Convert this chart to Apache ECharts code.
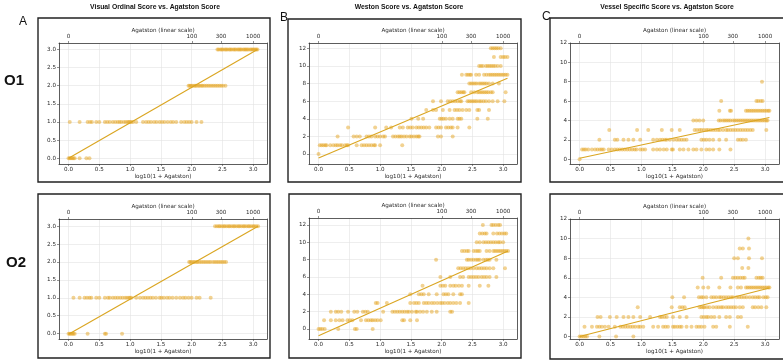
<!DOCTYPE html>
<html>
<head>
<meta charset="utf-8">
<script src="https://cdn.jsdelivr.net/npm/echarts@6/dist/echarts.min.js"></script>
<style>
  html, body { margin: 0; padding: 0; background: #fff; }
  #chart { width: 783px; height: 360px; }
</style>
</head>
<body>
<div id="chart"></div>
<script>
// rows of [score, [log10(1 + Agatston) values]]
var visualO1 = [
  [3, [2.42, 2.44, 2.47, 2.49, 2.51, 2.54, 2.56, 2.58, 2.61, 2.63, 2.65, 2.68, 2.7, 2.72, 2.75, 2.77, 2.79, 2.81, 2.84, 2.86, 2.88, 2.9, 2.92, 2.95, 2.97, 2.99, 3.01, 3.03, 3.05, 3.07]],
  [2, [1.95, 1.97, 1.99, 2.01, 2.04, 2.06, 2.08, 2.11, 2.13, 2.16, 2.18, 2.21, 2.24, 2.27, 2.3, 2.33, 2.36, 2.39, 2.42, 2.45, 2.48, 2.51, 2.55]],
  [1, [0.02, 0.18, 0.31, 0.35, 0.38, 0.45, 0.5, 0.59, 0.63, 0.67, 0.72, 0.76, 0.8, 0.83, 0.86, 0.9, 0.93, 0.96, 0.98, 1.0, 1.02, 1.05, 1.1, 1.21, 1.26, 1.3, 1.34, 1.39, 1.43, 1.48, 1.52, 1.56, 1.61, 1.66, 1.7, 1.75, 1.83, 1.88, 1.92, 1.96, 2.0, 2.08, 2.16]],
  [0, [0.0, 0.02, 0.04, 0.06, 0.08, 0.1, 0.18, 0.29, 0.34]]
];
var westonO1 = [
  [12, [2.8, 2.83, 2.86, 2.89, 2.92, 2.96]],
  [11, [2.85, 2.96, 3.0, 3.03, 3.07]],
  [10, [2.61, 2.64, 2.67, 2.72, 2.75, 2.78, 2.81, 2.84, 2.87, 2.91, 2.96]],
  [9, [2.33, 2.4, 2.43, 2.46, 2.48, 2.56, 2.61, 2.69, 2.73, 2.77, 2.8, 2.83, 2.86, 2.89, 2.92, 2.95, 2.98, 3.01, 3.04, 3.07]],
  [8, [2.45, 2.48, 2.51, 2.54, 2.57, 2.61, 2.64, 2.67, 2.7, 2.73, 2.77, 2.83, 2.93]],
  [7, [2.26, 2.29, 2.32, 2.35, 2.37, 2.48, 2.53, 2.58, 2.61, 2.64, 2.67, 2.7, 2.73, 2.76, 2.8, 2.83, 3.04]],
  [6, [1.86, 1.99, 2.1, 2.14, 2.18, 2.22, 2.26, 2.3, 2.32, 2.42, 2.45, 2.48, 2.51, 2.54, 2.57, 2.61, 2.64, 2.68, 2.72, 2.77, 2.83, 2.91, 3.02]],
  [5, [1.75, 1.86, 1.91, 2.02, 2.13, 2.21, 2.25, 2.29, 2.34, 2.4, 2.45, 2.58, 2.61, 2.77]],
  [4, [1.51, 1.62, 1.7, 1.97, 2.0, 2.03, 2.07, 2.13, 2.18, 2.26, 2.29, 2.32, 2.58, 2.75]],
  [3, [0.48, 0.92, 1.1, 1.18, 1.32, 1.37, 1.45, 1.49, 1.53, 1.59, 1.63, 1.67, 1.71, 1.75, 1.8, 1.91, 1.95, 1.99, 2.07, 2.11, 2.15, 2.18, 2.26, 2.45]],
  [2, [0.31, 0.57, 0.62, 0.67, 0.78, 0.82, 0.86, 0.92, 0.96, 1.0, 1.05, 1.08, 1.21, 1.25, 1.29, 1.32, 1.35, 1.39, 1.43, 1.48, 1.51, 1.55, 1.59, 1.62, 1.64, 1.94, 1.99, 2.18]],
  [1, [0.02, 0.05, 0.08, 0.11, 0.13, 0.19, 0.24, 0.28, 0.31, 0.35, 0.38, 0.43, 0.46, 0.48, 0.62, 0.7, 0.74, 0.78, 0.82, 0.86, 0.9, 0.92, 1.0, 1.36]],
  [0, [0.0]]
];
var vesselO1 = [
  [8, [2.95]],
  [6, [2.29, 2.86, 2.89, 2.93, 2.96]],
  [5, [2.26, 2.43, 2.45, 2.69, 2.72, 2.75, 2.78, 2.81, 2.84, 2.87, 2.9, 2.93, 2.96, 2.99, 3.02, 3.05, 3.07]],
  [4, [1.84, 1.89, 1.94, 2.0, 2.25, 2.28, 2.32, 2.35, 2.38, 2.41, 2.44, 2.48, 2.51, 2.54, 2.57, 2.6, 2.63, 2.66, 2.69, 2.72, 2.75, 2.78, 2.81, 2.84, 2.87, 2.9, 2.93, 2.96, 2.99, 3.02, 3.04]],
  [3, [0.48, 0.93, 1.11, 1.33, 1.49, 1.62, 1.86, 1.9, 1.94, 1.97, 2.01, 2.05, 2.08, 2.12, 2.16, 2.2, 2.24, 2.27, 2.32, 2.37, 2.4, 2.44, 2.48, 2.52, 2.56, 2.6, 2.64, 2.68, 2.72, 2.76, 2.8, 3.02]],
  [2, [0.32, 0.57, 0.61, 0.71, 0.79, 0.87, 0.98, 1.19, 1.25, 1.3, 1.34, 1.38, 1.41, 1.46, 1.52, 1.57, 1.61, 1.65, 1.69, 1.73, 1.97, 2.01, 2.05, 2.1, 2.16, 2.26, 2.37, 2.56, 2.6, 2.64, 2.69]],
  [1, [0.04, 0.07, 0.1, 0.14, 0.2, 0.25, 0.29, 0.33, 0.36, 0.39, 0.47, 0.52, 0.57, 0.61, 0.65, 0.69, 0.73, 0.77, 0.81, 0.85, 0.89, 0.92, 0.98, 1.02, 1.06, 1.19, 1.25, 1.3, 1.36, 1.41, 1.49, 1.51, 1.62, 1.68, 1.76, 1.84, 1.89, 1.97, 2.05, 2.1, 2.16, 2.26, 2.44]],
  [0, [0.0]]
];
var visualO2 = [
  [3, [2.38, 2.41, 2.44, 2.46, 2.49, 2.52, 2.54, 2.57, 2.6, 2.62, 2.65, 2.68, 2.7, 2.73, 2.76, 2.78, 2.81, 2.84, 2.86, 2.89, 2.92, 2.94, 2.97, 3.0, 3.02, 3.05, 3.08]],
  [2, [1.96, 1.98, 2.0, 2.03, 2.05, 2.08, 2.1, 2.13, 2.16, 2.19, 2.22, 2.25, 2.28, 2.31, 2.35, 2.38, 2.41, 2.44, 2.47, 2.5, 2.53, 2.56]],
  [1, [0.08, 0.18, 0.26, 0.3, 0.34, 0.37, 0.45, 0.5, 0.59, 0.64, 0.67, 0.72, 0.76, 0.8, 0.84, 0.88, 0.92, 0.95, 0.98, 1.0, 1.02, 1.1, 1.16, 1.21, 1.25, 1.29, 1.33, 1.37, 1.42, 1.48, 1.51, 1.55, 1.6, 1.64, 1.69, 1.75, 1.81, 1.86, 1.9, 1.95, 2.0, 2.08, 2.13, 2.31]],
  [0, [0.0, 0.02, 0.04, 0.06, 0.08, 0.1, 0.31, 0.59, 0.61, 0.87]]
];
var westonO2 = [
  [12, [2.67, 2.81, 2.84, 2.88, 2.92, 2.95]],
  [11, [2.62, 2.66, 2.7, 2.73, 2.84, 2.9, 2.94, 2.98, 3.02, 3.05]],
  [10, [2.57, 2.62, 2.68, 2.72, 2.76, 2.8, 2.84, 2.88, 2.92, 2.95, 3.0]],
  [9, [2.33, 2.37, 2.41, 2.44, 2.52, 2.56, 2.59, 2.62, 2.73, 2.78, 2.84, 2.87, 2.9, 2.93, 2.96, 2.99, 3.02, 3.05, 3.08]],
  [8, [1.91, 2.41, 2.44, 2.48, 2.52, 2.56, 2.59, 2.62, 2.68, 2.72, 2.75, 2.78, 2.89]],
  [7, [2.27, 2.31, 2.35, 2.39, 2.43, 2.47, 2.52, 2.57, 2.61, 2.65, 2.69, 2.73, 2.78, 2.84, 3.03]],
  [6, [1.98, 2.14, 2.3, 2.35, 2.44, 2.48, 2.52, 2.56, 2.6, 2.65, 2.69, 2.73, 2.78, 2.89]],
  [5, [1.69, 1.98, 2.02, 2.06, 2.14, 2.19, 2.23, 2.28, 2.33, 2.44, 2.62, 2.76]],
  [4, [1.49, 1.63, 1.67, 1.71, 1.79, 1.92, 2.03, 2.07, 2.11, 2.19, 2.3, 2.33]],
  [3, [0.93, 0.96, 1.11, 1.49, 1.55, 1.59, 1.63, 1.71, 1.75, 1.79, 1.84, 1.88, 1.93, 1.98, 2.01, 2.05, 2.1, 2.14, 2.19, 2.24, 2.3, 2.44]],
  [2, [0.2, 0.28, 0.32, 0.37, 0.48, 0.58, 0.63, 0.72, 0.76, 0.8, 1.05, 1.2, 1.24, 1.28, 1.32, 1.36, 1.4, 1.44, 1.47, 1.52, 1.58, 1.6, 1.65, 1.7, 1.76, 1.84, 1.92, 2.14, 2.17]],
  [1, [0.09, 0.2, 0.28, 0.34, 0.39, 0.47, 0.51, 0.55, 0.69, 0.77, 0.81, 0.85, 0.88, 0.92, 0.96, 1.01, 1.36, 1.39, 1.49, 1.6]],
  [0, [0.0, 0.03, 0.06, 0.1, 0.32, 0.59, 0.62, 0.88]]
];
var vesselO2 = [
  [10, [2.73]],
  [9, [2.59, 2.64, 2.74]],
  [8, [2.5, 2.56, 2.74, 2.95]],
  [7, [2.63, 2.73]],
  [6, [1.99, 2.29, 2.48, 2.52, 2.56, 2.6, 2.64, 2.67, 2.86, 2.9, 2.93, 2.96]],
  [5, [1.91, 2.0, 2.08, 2.26, 2.44, 2.56, 2.61, 2.69, 2.72, 2.75, 2.78, 2.81, 2.84, 2.87, 2.9, 2.93, 2.96, 2.99, 3.02, 3.05, 3.07]],
  [4, [1.5, 1.69, 1.93, 1.97, 2.0, 2.05, 2.13, 2.17, 2.21, 2.26, 2.29, 2.33, 2.37, 2.41, 2.45, 2.48, 2.54, 2.58, 2.62, 2.66, 2.7, 2.75, 2.8, 2.84, 2.88, 2.91, 2.97, 3.01, 3.04]],
  [3, [0.94, 1.49, 1.62, 1.66, 1.7, 1.94, 1.97, 2.0, 2.02, 2.06, 2.1, 2.16, 2.21, 2.25, 2.29, 2.32, 2.37, 2.41, 2.45, 2.49, 2.53, 2.59, 2.64, 2.8, 2.84, 2.89, 2.94, 3.02]],
  [2, [0.29, 0.34, 0.49, 0.6, 0.71, 0.79, 0.87, 0.98, 1.14, 1.3, 1.33, 1.37, 1.41, 1.51, 1.62, 1.73, 1.97, 2.01, 2.05, 2.08, 2.13, 2.18, 2.26, 2.37, 2.43, 2.56, 2.61]],
  [1, [0.08, 0.2, 0.28, 0.32, 0.36, 0.41, 0.47, 0.57, 0.66, 0.7, 0.74, 0.78, 0.82, 0.86, 0.9, 0.95, 0.98, 1.03, 1.19, 1.27, 1.35, 1.39, 1.43, 1.51, 1.54, 1.58, 1.62, 1.65, 1.73, 1.81, 1.89, 1.93, 1.97, 2.02, 2.16, 2.21, 2.43, 2.72]],
  [0, [0.0, 0.03, 0.06, 0.09, 0.12, 0.32, 0.59, 0.87]]
];

// fitted lines (endpoints)
var visualO1Fit = [[0, 0.0], [3.07, 3.0]];
var westonO1Fit = [[0, -0.45], [3.07, 8.6]];
var vesselO1Fit = [[0, 0.1], [3.07, 4.3]];
var visualO2Fit = [[0, -0.02], [3.08, 3.0]];
var westonO2Fit = [[0, -0.77], [3.08, 9.0]];
var vesselO2Fit = [[0, 0.0], [3.07, 4.95]];

var xTicks = [0, 0.5, 1, 1.5, 2, 2.5, 3];
var topTicks = [0, 100, 300, 1000];
var yTicksVisual = [0, 0.5, 1, 1.5, 2, 2.5, 3];
var yTicksScore = [0, 2, 4, 6, 8, 10, 12];

var panels = [
  { rows: visualO1, fit: visualO1Fit, box: [59, 43, 208, 121], y: [-0.16, 3.18], ticks: yTicksVisual, dec: 1 },
  { rows: westonO1, fit: westonO1Fit, box: [309, 43, 208, 121], y: [-1.13, 12.6], ticks: yTicksScore, dec: 0 },
  { rows: vesselO1, fit: vesselO1Fit, box: [570, 43, 209, 121], y: [-0.5, 12], ticks: yTicksScore, dec: 0 },
  { rows: visualO2, fit: visualO2Fit, box: [59, 219, 208, 120], y: [-0.15, 3.2], ticks: yTicksVisual, dec: 1 },
  { rows: westonO2, fit: westonO2Fit, box: [309, 218, 208, 121], y: [-1.15, 12.8], ticks: yTicksScore, dec: 0 },
  { rows: vesselO2, fit: vesselO2Fit, box: [570, 219, 209, 120], y: [-0.25, 12], ticks: yTicksScore, dec: 0 }
];

var small = { fontSize: 5.6, color: '#2a2a2a', fontFamily: 'DejaVu Sans' };
var gold = '#DAA520';
var spine = { show: true, onZero: false, lineStyle: { color: '#333', width: 0.8 } };
var tick = { color: '#444', width: 0.6 };

function toPoints(rows) {
  var pts = [];
  rows.forEach(function (r) {
    r[1].forEach(function (x) { pts.push([x, r[0]]); });
  });
  return pts;
}

var topPos = topTicks.map(function (v) { return Math.log10(1 + v); });
var grids = [], xAxes = [], yAxes = [], series = [];
panels.forEach(function (p, i) {
  grids.push({
    left: p.box[0], top: p.box[1], width: p.box[2], height: p.box[3],
    show: false, containLabel: false, outerBoundsMode: 'none'
  });
  xAxes.push({
    type: 'value', gridIndex: i, position: 'bottom', min: -0.155, max: 3.225,
    axisLine: spine,
    axisTick: { show: true, length: 2, customValues: xTicks, lineStyle: tick },
    axisLabel: Object.assign({ customValues: xTicks, margin: 3, formatter: function (v) { return v.toFixed(1); } }, small),
    splitLine: { show: true, lineStyle: { color: '#e3e3e3', width: 0.6 } },
    name: 'log10(1 + Agatston)', nameLocation: 'middle', nameGap: 8.5, nameTextStyle: small
  });
  xAxes.push({
    type: 'value', gridIndex: i, position: 'top', min: -0.155, max: 3.225,
    axisLine: spine,
    axisTick: { show: true, length: 2, customValues: topPos, lineStyle: tick },
    axisLabel: Object.assign({
      customValues: topPos, margin: 3,
      formatter: function (v) { return String(Math.round(Math.pow(10, v) - 1)); }
    }, small),
    splitLine: { show: false },
    name: 'Agatston (linear scale)', nameLocation: 'middle', nameGap: 8.5, nameTextStyle: small
  });
  yAxes.push({
    type: 'value', gridIndex: i, position: 'left', min: p.y[0], max: p.y[1],
    axisLine: spine,
    axisTick: { show: true, length: 2, customValues: p.ticks, lineStyle: tick },
    axisLabel: Object.assign({ customValues: p.ticks, margin: 3, formatter: function (v) { return v.toFixed(p.dec); } }, small),
    splitLine: { show: true, lineStyle: { color: '#e3e3e3', width: 0.6 } }
  });
  yAxes.push({
    type: 'value', gridIndex: i, position: 'right', min: p.y[0], max: p.y[1],
    axisLine: spine, axisTick: { show: false }, axisLabel: { show: false }, splitLine: { show: false }
  });
  series.push({
    type: 'scatter', xAxisIndex: 2 * i, yAxisIndex: 2 * i, data: toPoints(p.rows),
    symbol: 'circle', symbolSize: 4,
    itemStyle: { color: 'rgba(228,160,25,0.6)' }
  });
  series.push({
    type: 'line', xAxisIndex: 2 * i, yAxisIndex: 2 * i, data: p.fit,
    showSymbol: false, z: 5,
    lineStyle: { color: gold, width: 1.1 }
  });
});

function label(text, x, y, font, align) {
  return {
    type: 'text', x: x, y: y, silent: true,
    style: { text: text, font: font, fill: '#111', align: align || 'left', verticalAlign: 'middle', textAlign: align || 'left', textVerticalAlign: 'middle' }
  };
}
function frame(x, y, w, h) {
  return { type: 'rect', silent: true, shape: { x: x, y: y, width: w, height: h }, style: { fill: 'none', stroke: '#222', lineWidth: 1.4 } };
}

var chart = echarts.init(document.getElementById('chart'), null, { renderer: 'canvas' });
chart.setOption({
  animation: false,
  backgroundColor: '#fff',
  grid: grids,
  xAxis: xAxes,
  yAxis: yAxes,
  series: series,
  graphic: [
    frame(38, 18, 232, 164), frame(38, 194, 232, 164),
    frame(288, 19, 233, 163), frame(289, 194, 232, 164),
    frame(550, 18, 240, 164), frame(550, 194, 240, 165),
    label('Visual Ordinal Score vs. Agatston Score', 155, 7, 'bold 6.8px "Liberation Sans"', 'center'),
    label('Weston Score vs. Agatston Score', 409, 7, 'bold 6.8px "Liberation Sans"', 'center'),
    label('Vessel Specific Score vs. Agatston Score', 667, 7, 'bold 6.8px "Liberation Sans"', 'center'),
    label('A', 19, 22, '12px "Liberation Sans"'),
    label('B', 280, 18, '12px "Liberation Sans"'),
    label('C', 542, 17, '12px "Liberation Sans"'),
    label('O1', 4, 81, 'bold 15px "Liberation Sans"'),
    label('O2', 6, 263, 'bold 15px "Liberation Sans"')
  ]
});
</script>
</body>
</html>
